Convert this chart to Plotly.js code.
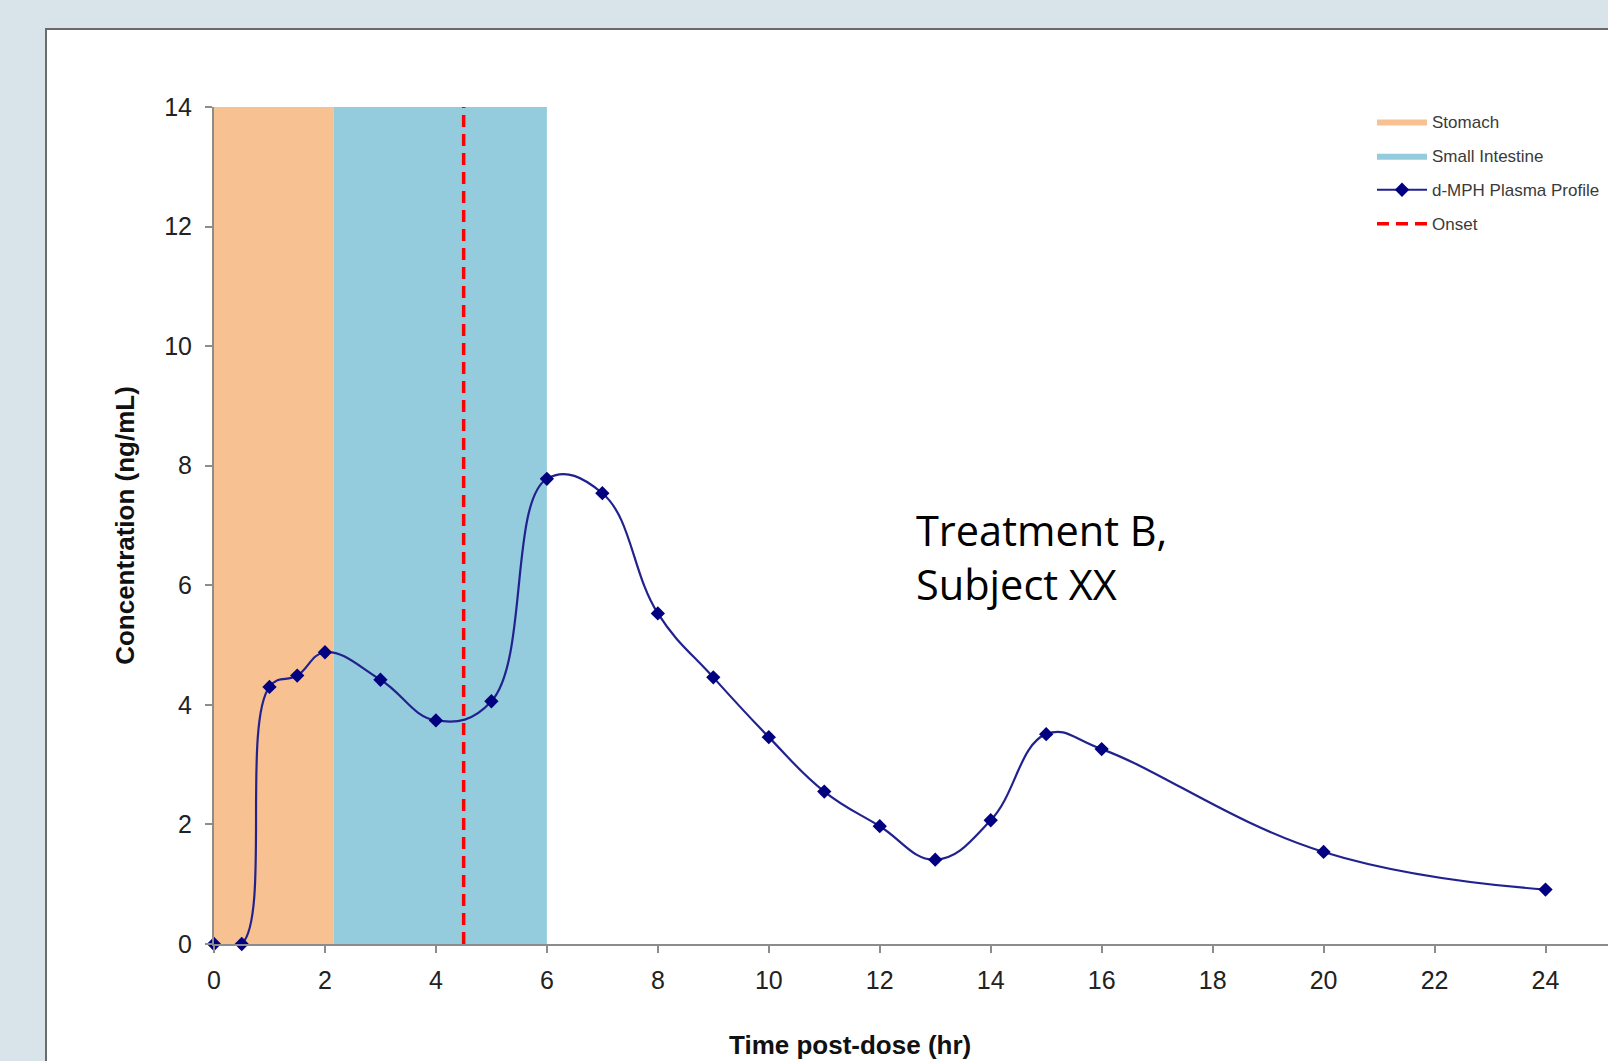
<!DOCTYPE html>
<html>
<head>
<meta charset="utf-8">
<script src="https://cdn.plot.ly/plotly-3.0.1.min.js"></script>
<style>
  html, body { margin: 0; padding: 0; background: #d8e4ea; overflow: hidden; }
  #chart { width: 1608px; height: 1061px; }
</style>
</head>
<body>
<div id="chart"></div>
<script>
// ---- Data ----
const timeHr = [0, 0.5, 1, 1.5, 2, 3, 4, 5, 6, 7, 8, 9, 10, 11, 12, 13, 14, 15, 16, 20, 24];
const concNgMl = [0, 0, 4.30, 4.49, 4.88, 4.42, 3.74, 4.06, 7.78, 7.54, 5.53, 4.46, 3.46, 2.55, 1.97, 1.41, 2.07, 3.51, 3.26, 1.54, 0.91];

const stomachX = [0, 2.16];
const stomachY = [14, 14];
const intestineX = [2.16, 6.0];
const intestineY = [14, 14];
const onsetX = [4.5, 4.5];
const onsetY = [0, 14];

const yTicks = [0, 2, 4, 6, 8, 10, 12, 14];
const xTicks = [0, 2, 4, 6, 8, 10, 12, 14, 16, 18, 20, 22, 24];

const seriesNames = ['Stomach', 'Small Intestine', 'd-MPH Plasma Profile', 'Onset'];
const annotationText = 'Treatment B,<br>Subject XX';
const xTitle = 'Time post-dose (hr)';
const yTitle = 'Concentration (ng/mL)';

// ---- Layout geometry (pixels) ----
const W = 1608, H = 1061;
const plotL = 214, plotR = 1608, plotT = 107, plotB = 944.5;
const pxPerHr = (1545.5 - 214) / 24;
const xMax = (plotR - plotL) / pxPerHr;
const plotH = plotB - plotT;
const plotW = plotR - plotL;
const px2paperX = p => (p - plotL) / plotW;
const px2paperY = p => (plotB - p) / plotH;

const FONT = 'Liberation Sans, Arial, sans-serif';

const traces = [
  {
    x: stomachX, y: stomachY, name: seriesNames[0], type: 'scatter', mode: 'lines',
    fill: 'tozeroy', fillcolor: '#f8c191', line: {color: '#f8c191', width: 0},
    legendgroup: 'a', hoverinfo: 'skip'
  },
  {
    x: intestineX, y: intestineY, name: seriesNames[1], type: 'scatter', mode: 'lines',
    fill: 'tozeroy', fillcolor: '#95ccdd', line: {color: '#95ccdd', width: 0},
    legendgroup: 'b', hoverinfo: 'skip'
  },
  {
    x: timeHr, y: concNgMl, name: seriesNames[2], type: 'scatter', mode: 'lines+markers',
    line: {color: '#22228f', width: 2.2, shape: 'spline', smoothing: 1.2},
    marker: {symbol: 'diamond', size: 11, color: '#000080'},
    legendgroup: 'c', cliponaxis: false
  },
  {
    x: onsetX, y: onsetY, name: seriesNames[3], type: 'scatter', mode: 'lines',
    line: {color: '#ff0000', width: 3.5, dash: '12px,7px'},
    legendgroup: 'd'
  }
];

const layout = {
  width: W, height: H,
  paper_bgcolor: '#d8e4ea',
  plot_bgcolor: 'rgba(0,0,0,0)',
  margin: {l: plotL, r: W - plotR, t: plotT, b: H - plotB, pad: 0},
  showlegend: true,
  legend: {
    x: px2paperX(1372), y: px2paperY(104), xanchor: 'left', yanchor: 'top',
    bgcolor: 'rgba(0,0,0,0)', borderwidth: 0,
    font: {family: FONT, size: 17, color: '#3a3a3a'},
    itemwidth: 50, tracegroupgap: 9, traceorder: 'grouped'
  },
  xaxis: {
    range: [0, xMax], tickvals: xTicks, ticktext: xTicks.map(String),
    showgrid: false, zeroline: false, showline: true,
    linecolor: '#8c8c8c', linewidth: 2,
    ticks: 'outside', ticklen: 7, tickwidth: 2, tickcolor: '#8c8c8c',
    tickfont: {family: FONT, size: 25, color: '#222222'},
    ticklabelstandoff: 6
  },
  yaxis: {
    range: [0, 14], tickvals: yTicks, ticktext: yTicks.map(String),
    showgrid: false, zeroline: false, showline: true,
    linecolor: '#8c8c8c', linewidth: 2,
    ticks: 'outside', ticklen: 7, tickwidth: 2, tickcolor: '#8c8c8c',
    tickfont: {family: FONT, size: 25, color: '#222222'},
    ticklabelstandoff: 8,
    title: {text: yTitle, font: {family: FONT, size: 26, color: '#111111', weight: 'bold'}, standoff: 22}
  },
  shapes: [
    {
      type: 'rect', xref: 'paper', yref: 'paper', layer: 'below',
      x0: px2paperX(46), x1: px2paperX(1700), y0: px2paperY(1200), y1: px2paperY(29),
      fillcolor: '#ffffff', line: {color: '#6b6b6b', width: 2}
    }
  ],
  annotations: [
    {
      text: annotationText, xref: 'x', yref: 'y',
      x: (914 - plotL) / pxPerHr, y: (plotB - 557) / (plotH / 14),
      xanchor: 'left', yanchor: 'middle', align: 'left', showarrow: false,
      font: {family: 'Open Sans, sans-serif', size: 41.5, color: '#000000'}
    },
    {
      text: xTitle, xref: 'x', yref: 'paper',
      x: (850 - plotL) / pxPerHr, y: px2paperY(1046),
      xanchor: 'center', yanchor: 'middle', showarrow: false,
      font: {family: FONT, size: 26, color: '#111111', weight: 'bold'}
    }
  ]
};

Plotly.newPlot('chart', traces, layout, {displayModeBar: false, staticPlot: true});
</script>
</body>
</html>
